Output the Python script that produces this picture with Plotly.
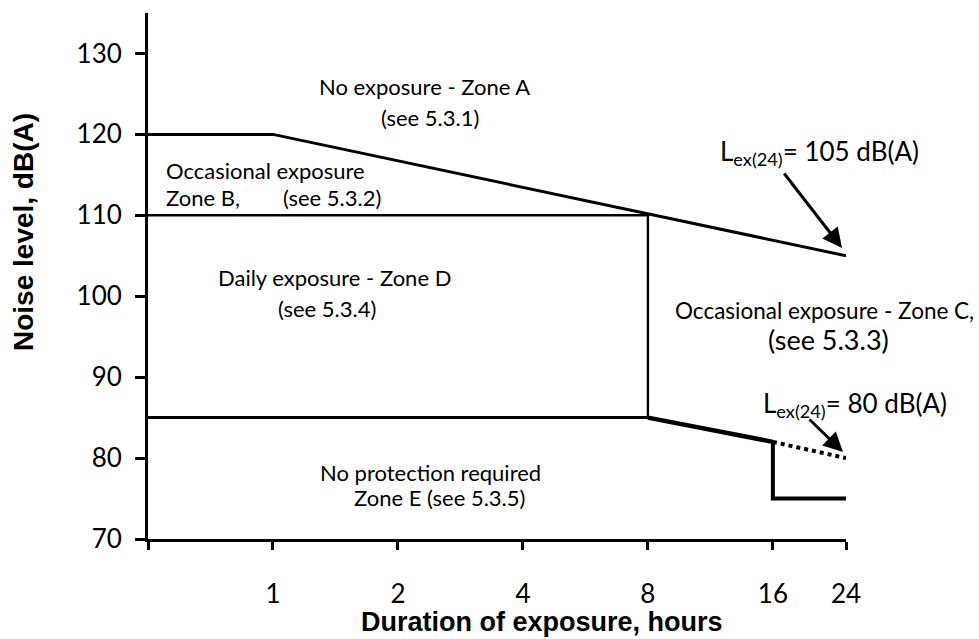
import math
import plotly.graph_objects as go

# ---- data ----
x_ticks = [1, 2, 4, 8, 16, 24]
y_ticks = [70, 80, 90, 100, 110, 120, 130]

zoneA_x = [0.5, 1, 24]
zoneA_y = [120, 120, 105]

zoneB_x = [0.5, 8, 8]
zoneB_y = [110, 110, 85]

zoneE_flat_x = [0.5, 8]
zoneE_flat_y = [85, 85]

zoneE_slope_x = [8, 16]
zoneE_slope_y = [85, 82]

zoneE_step_x = [16, 16, 24]
zoneE_step_y = [82, 75, 75]

zoneE_dot_x = [16, 24]
zoneE_dot_y = [82, 80]

# ---- layout geometry (pixels) ----
W, H = 979, 639
PL, PR, PT, PB = 148, 846, 13, 539


def px(x):
    return (x - PL) / (PR - PL)


def py(y):
    return (PB - y) / (PB - PT)


fig = go.Figure()

def line(xs, ys, width, dash="solid"):
    fig.add_trace(go.Scatter(x=xs, y=ys, mode="lines",
                             line=dict(color="black", width=width, dash=dash),
                             hoverinfo="skip", showlegend=False))

line(zoneA_x, zoneA_y, 3)
line(zoneB_x, zoneB_y, 2.4)
line(zoneE_flat_x, zoneE_flat_y, 3)
line(zoneE_slope_x, zoneE_slope_y, 4.5)
line(zoneE_step_x, zoneE_step_y, 4)
line(zoneE_dot_x, zoneE_dot_y, 4, "dot")

TF = "Lato"
ann = []

def txt(t, x, y, size=22, anchor="center"):
    ann.append(dict(text=t, x=px(x), y=py(y), xref="paper", yref="paper",
                    xanchor=anchor, yanchor="middle", showarrow=False,
                    font=dict(family=TF, size=size, color="black")))

txt("No exposure - Zone A", 424, 87)
txt("(see 5.3.1)", 430, 117)
txt("Occasional exposure", 164, 170, anchor="left")
txt("Zone B,", 164, 198, anchor="left")
txt("(see 5.3.2)", 281, 198, anchor="left")
txt("Daily exposure - Zone D", 334, 278)
txt("(see 5.3.4)", 327, 308)
txt("Occasional exposure - Zone C,", 673, 310, size=22.5, anchor="left")
txt("(see 5.3.3)", 828, 339, size=27)
txt("No protection required", 318, 472, anchor="left")
txt("Zone E (see 5.3.5)", 352, 497, anchor="left")
txt("L<sub>ex(24)</sub>= 105 dB(A)", 718, 152, size=26, anchor="left")
txt("L<sub>ex(24)</sub>= 80 dB(A)", 761, 404, size=26, anchor="left")

def arrow(hx, hy, tx, ty):
    ann.append(dict(text="", x=px(hx), y=py(hy), xref="paper", yref="paper",
                    ax=tx - hx, ay=ty - hy, axref="pixel", ayref="pixel",
                    showarrow=True, arrowhead=2, arrowsize=1.3, arrowwidth=3,
                    arrowcolor="black"))

arrow(842, 248, 783, 172)
arrow(843, 452, 808, 418)

# axis titles
ann.append(dict(text="<b>Duration of exposure, hours</b>", x=px(542), y=py(622),
                xref="paper", yref="paper", showarrow=False,
                xanchor="center", yanchor="middle",
                font=dict(family="Liberation Sans", size=27, color="black")))
ann.append(dict(text="<b>Noise level, dB(A)</b>", x=px(24), y=py(232),
                xref="paper", yref="paper", showarrow=False, textangle=-90,
                xanchor="center", yanchor="middle",
                font=dict(family="Liberation Sans", size=28, color="black")))

fig.update_layout(
    width=W, height=H,
    margin=dict(l=PL, r=W - PR, t=PT, b=H - PB, pad=0),
    paper_bgcolor="white", plot_bgcolor="white",
    annotations=ann,
    showlegend=False,
)
fig.update_xaxes(type="log", range=[math.log10(0.5), math.log10(24)],
                 tickvals=[0.5] + x_ticks, ticktext=[""] + [str(v) for v in x_ticks],
                 ticks="outside", ticklen=8, tickwidth=2.5, tickcolor="black",
                 showline=True, linewidth=3, linecolor="black",
                 showgrid=False, zeroline=False, ticklabelstandoff=22,
                 tickfont=dict(family=TF, size=26, color="black"))
fig.update_yaxes(range=[70, 135], tickvals=y_ticks,
                 ticks="outside", ticklen=10, tickwidth=2.5, tickcolor="black",
                 showline=True, linewidth=3, linecolor="black",
                 showgrid=False, zeroline=False, ticklabelstandoff=8,
                 tickfont=dict(family=TF, size=26, color="black"))

fig.write_html("out.html",
               config={"displayModeBar": False},
               post_script="document.body.style.margin='0';"
                           "document.body.style.overflow='hidden';")
